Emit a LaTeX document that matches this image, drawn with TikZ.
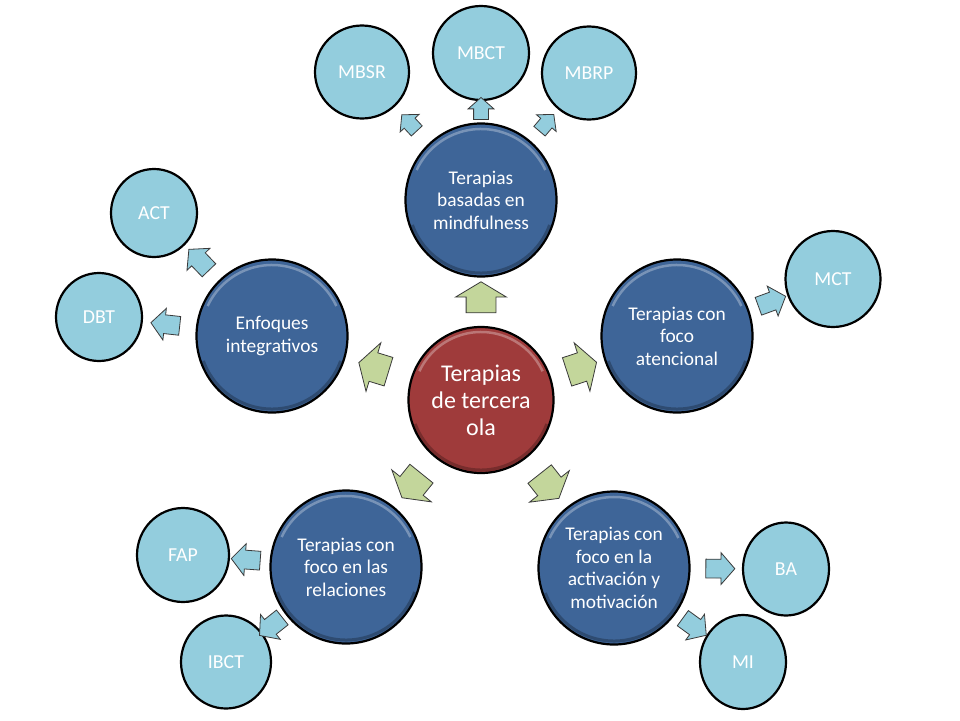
\documentclass[tikz,border=0pt]{standalone}
\usepackage{fontspec}
\setmainfont{Carlito}
\usetikzlibrary{shapes.arrows,shapes.geometric,calc}
\definecolor{redc}{HTML}{9F3B3B}
\definecolor{bluec}{HTML}{3E6598}
\definecolor{lightc}{HTML}{93CDDD}
\definecolor{greenc}{HTML}{C3D69B}
\definecolor{arrowline}{HTML}{3A3A3A}
\begin{document}
\begin{tikzpicture}[x=1pt,y=-1pt,
  base/.style={ellipse, draw=black, line width=2.2pt, inner sep=0pt, text=white, align=center},
  bevel/.style={path picture={
      \draw[white, opacity=0.3, line width=2.5pt]
        ($(path picture bounding box.center)+(205:#1)$) arc[start angle=205, end angle=335, radius=#1];
      \draw[black, opacity=0.25, line width=3pt]
        ($(path picture bounding box.center)+(20:#1+2)$) arc[start angle=20, end angle=160, radius=#1+2];}},
  mainnode/.style={base, fill=redc, minimum width=145pt, minimum height=146pt,
    font=\fontsize{24}{27}\selectfont, bevel=68},
  midnode/.style={base, fill=bluec, minimum width=151pt, minimum height=153pt,
    font=\fontsize{19.4}{22.5}\selectfont, bevel=71},
  leaf/.style={base, fill=lightc, font=\fontsize{19.8}{22}\selectfont},
  garrow/.style={single arrow, draw=arrowline, line width=0.8pt, fill=greenc,
    inner xsep=0pt, inner ysep=14.5pt,
    minimum height=31pt, single arrow head extend=10.5pt,
    single arrow tip angle=118, sloped, allow upside down},
  barrow/.style={single arrow, draw=arrowline, line width=0.8pt, fill=lightc,
    inner xsep=0pt, inner ysep=9pt,
    minimum height=29pt, single arrow head extend=6.5pt,
    single arrow tip angle=98, sloped, allow upside down},
  sbarrow/.style={barrow, inner ysep=7pt, minimum height=22pt,
    single arrow head extend=5.5pt, single arrow tip angle=97},
]
\useasboundingbox[fill=white] (0,0) rectangle (960,720);

% central node
\node[mainnode] (center) at (481,400) {Terapias\\de tercera\\ola};

% second level
\node[midnode] (mind) at (481,200) {Terapias\\basadas en\\mindfulness};
\node[midnode] (integ) at (272,336) {Enfoques\\integrativos};
\node[midnode] (aten) at (677,336) {Terapias con\\foco\\atencional};
\node[midnode] (rel) at (346,567) {Terapias con\\foco en las\\relaciones};
\node[midnode] (act) at (614,568) {Terapias con\\foco en la\\activación y\\motivación};

% leaves
\node[leaf, minimum width=94pt, minimum height=93pt] (mbsr) at (362,72) {MBSR};
\node[leaf, minimum width=96pt, minimum height=94pt] (mbct) at (481,53) {MBCT};
\node[leaf, minimum width=94pt, minimum height=93pt] (mbrp) at (589,73) {MBRP};
\node[leaf, minimum width=86pt, minimum height=88pt] (actn) at (154,213) {ACT};
\node[leaf, minimum width=86pt, minimum height=88pt] (dbt) at (99,317) {DBT};
\node[leaf, minimum width=95pt, minimum height=96pt] (mct) at (833,279) {MCT};
\node[leaf, minimum width=92pt, minimum height=94pt] (fap) at (183,555) {FAP};
\node[leaf, minimum width=90pt, minimum height=93pt] (ibct) at (226,662) {IBCT};
\node[leaf, minimum width=86pt, minimum height=93pt] (ba) at (786,569) {BA};
\node[leaf, minimum width=86pt, minimum height=94pt] (mi) at (743,662) {MI};

% green arrows
\path (center) -- (mind) node[garrow, pos=0.5] (g1) {};
\path (center) -- (integ) node[garrow, pos=0.5] (g2) {};
\path (center) -- (aten) node[garrow, pos=0.5] (g3) {};
\path (center) -- (rel) node[garrow, pos=0.5] (g4) {};
\path (center) -- (act) node[garrow, pos=0.5] (g5) {};

% blue arrows
\path (mind) -- (mbsr) node[sbarrow, pos=0.5] (b1) {};
\path (mind) -- (mbct) node[sbarrow, pos=0.5] (b2) {};
\path (mind) -- (mbrp) node[sbarrow, pos=0.5] (b3) {};
\path (integ) -- (actn) node[barrow, pos=0.5] (b4) {};
\path (integ) -- (dbt) node[barrow, pos=0.5] (b5) {};
\path (aten) -- (mct) node[barrow, pos=0.5] (b6) {};
\path (rel) -- (fap) node[barrow, pos=0.5] (b7) {};
\path (rel) -- (ibct) node[barrow, pos=0.5] (b8) {};
\path (act) -- (ba) node[barrow, pos=0.5] (b9) {};
\path (act) -- (mi) node[barrow, pos=0.5] (b10) {};
\end{tikzpicture}
\end{document}
